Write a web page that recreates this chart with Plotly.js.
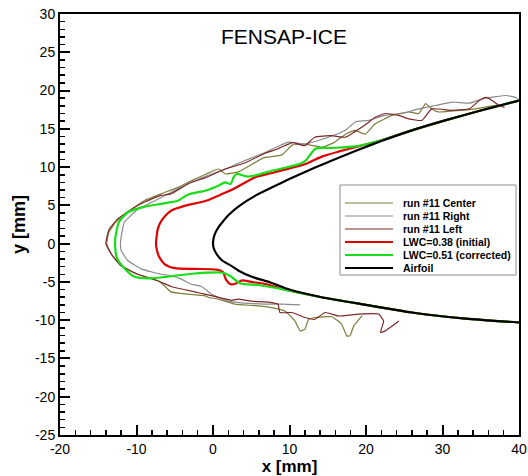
<!DOCTYPE html>
<html>
<head>
<meta charset="utf-8">
<script src="https://cdn.plot.ly/plotly-3.0.1.min.js"></script>
<style>html,body{margin:0;padding:0;background:#fff;}#chart{width:528px;height:476px;}</style>
</head>
<body>
<div id="chart"></div>
<script>
// ---- data (mm) ----
const seriesNames = ["run #11 Center", "run #11 Right", "run #11 Left", "LWC=0.38 (initial)", "LWC=0.51 (corrected)", "Airfoil"];

const centerX = [19.5, 18.4, 17.9, 17.5, 16.8, 15.5, 13.3, 12.5, 12.0, 11.4, 10.7, 9.4, 7.65, 5.45, 2.85, 0.65, -0.65, -1.1, -3.3, -5.5, -6.35, -7.2, -9.85, -12.0, -13.3, -13.9, -13.6, -12.7, -11.0, -9.0, -6.8, -4.6, -2.85, -0.9, 0.75, 1.6, 3.4, 5.0, 6.6, 9.0, 10.4, 12.0, 14.3, 15.8, 17.5, 18.6, 19.9, 21.2, 23.4, 25.6, 26.9, 27.8, 28.6, 29.5, 32.2, 34.3, 37.0, 37.6];
const centerY = [-9.4, -10.75, -12.05, -12.05, -10.5, -9.55, -9.65, -9.9, -11.2, -11.4, -10.1, -8.8, -8.35, -8.1, -7.9, -7.25, -7.0, -6.8, -6.6, -6.3, -5.5, -4.85, -4.0, -2.9, -1.35, 0.0, 1.5, 2.8, 4.2, 5.6, 6.5, 7.35, 8.2, 9.1, 9.75, 9.1, 9.4, 10.3, 11.2, 11.6, 12.9, 13.0, 12.6, 13.2, 14.4, 14.8, 14.3, 15.65, 16.75, 17.2, 17.0, 18.3, 17.6, 17.2, 17.4, 17.6, 18.05, 17.9];

const rightX = [11.4, 9.0, 6.8, 4.6, 2.0, -0.2, -1.5, -2.85, -4.2, -5.5, -6.8, -9.4, -11.15, -12.0, -12.1, -11.9, -11.6, -9.8, -7.2, -4.6, -1.5, 2.0, 3.3, 6.8, 9.85, 12.0, 15.1, 17.3, 18.6, 20.3, 22.5, 24.7, 26.9, 29.1, 31.3, 33.5, 35.2, 37.0, 38.3, 39.6, 40.0];
const rightY = [-8.0, -7.9, -7.9, -7.8, -7.5, -6.6, -5.6, -5.3, -4.6, -4.2, -4.0, -3.3, -2.2, -0.9, 0.0, 1.5, 2.8, 4.5, 5.8, 7.15, 8.6, 9.9, 10.5, 11.9, 13.25, 13.0, 13.9, 14.8, 15.9, 16.1, 16.75, 17.0, 17.6, 18.05, 18.5, 18.35, 18.9, 19.2, 19.35, 19.1, 18.7];

const leftX = [24.3, 22.5, 21.9, 22.3, 21.65, 19.0, 16.4, 14.65, 13.3, 12.0, 10.3, 8.75, 8.5, 7.65, 5.0, 3.3, 2.4, -0.2, -1.1, -2.4, -5.5, -7.2, -9.85, -12.0, -13.3, -14.0, -13.6, -12.5, -10.5, -9.0, -6.8, -5.5, -3.3, -0.9, 1.6, 4.3, 6.8, 8.5, 10.4, 12.0, 13.3, 15.5, 17.3, 18.5, 20.0, 21.2, 22.5, 24.3, 25.6, 27.3, 28.6, 31.3, 33.5, 34.8, 35.7, 36.5, 37.4, 38.1];
const leftY = [-10.1, -11.4, -11.6, -10.1, -9.2, -9.2, -9.45, -9.0, -9.9, -9.65, -9.0, -9.0, -7.9, -7.7, -7.5, -7.25, -7.4, -6.8, -6.6, -6.3, -5.6, -4.85, -4.0, -2.9, -1.35, 0.0, 1.8, 3.2, 4.6, 5.4, 6.3, 6.5, 7.8, 8.65, 9.75, 10.6, 11.8, 12.4, 13.2, 12.8, 13.9, 14.1, 13.9, 14.6, 15.6, 16.5, 17.0, 16.75, 16.3, 16.1, 17.6, 17.4, 17.6, 18.7, 19.1, 18.7, 18.05, 17.8];

const lwc038X = [40, 35, 30, 26, 22, 18.6, 16.5, 14.3, 12.1, 9.9, 7.6, 5.6, 3.5, 2.6, 1.0, -0.9, -3.5, -5.5, -6.6, -7.2, -7.45, -7.3, -7.0, -6.3, -5.0, -2.5, 0.5, 1.3, 1.7, 2.3, 3.0, 3.8, 5.0, 7.0, 9.0, 14.2, 20, 26, 33, 40];
const lwc038Y = [18.7, 17.4, 16.0, 14.8, 13.5, 12.6, 12.05, 11.4, 10.4, 9.8, 9.2, 8.7, 7.6, 7.1, 6.4, 5.6, 5.0, 4.3, 3.2, 2.0, 0.0, -1.0, -1.8, -2.7, -3.2, -3.3, -3.4, -3.7, -4.7, -5.3, -5.2, -4.8, -5.0, -5.3, -5.9, -7.0, -8.0, -9.0, -9.8, -10.3];

const lwc051X = [40, 35, 30, 26, 22, 18.6, 15.6, 13.4, 12.1, 11.3, 7.8, 4.7, 3.1, 2.7, 2.3, 1.6, 0.75, -0.9, -3.3, -4.6, -6.8, -9.0, -11.1, -12.3, -12.8, -12.6, -11.6, -10.3, -8.5, -5.9, -2.4, 1.3, 2.2, 3.6, 5.9, 9.0, 14.2, 20, 26, 33, 40];
const lwc051Y = [18.7, 17.4, 16.0, 14.8, 13.5, 12.7, 12.5, 12.4, 10.85, 10.4, 9.55, 8.75, 9.1, 8.7, 7.8, 8.0, 7.6, 6.95, 6.4, 5.6, 5.2, 4.8, 4.1, 2.8, 0.4, -1.8, -3.2, -4.3, -4.55, -4.3, -3.9, -3.8, -4.2, -5.2, -5.4, -5.95, -7.0, -8.0, -9.0, -9.8, -10.3];

const airfoilX = [40, 33, 26, 20, 14.2, 10, 7.6, 5, 3.3, 2.4, 1.2, 0.5, 0.1, 0, 0.1, 0.35, 0.75, 1.3, 2.1, 3.4, 5.6, 7.8, 9.9, 12.1, 14.3, 16.5, 18.6, 22, 26, 30, 35, 40];
const airfoilY = [-10.3, -9.8, -9.0, -8.0, -7.0, -6.0, -5.1, -4.3, -3.5, -2.9, -2.2, -1.4, -0.6, 0, 0.8, 1.5, 2.2, 2.9, 3.8, 4.9, 6.3, 7.4, 8.4, 9.4, 10.35, 11.25, 12.1, 13.4, 14.8, 16.0, 17.4, 18.7];

const xTicks = [-20, -10, 0, 10, 20, 30, 40];
const yTicks = [-25, -20, -15, -10, -5, 0, 5, 10, 15, 20, 25, 30];

// ---- styles ----
const colors = ["#7d7d3c", "#8a8a8a", "#7a2828", "#e00000", "#19dd19", "#000000"];
const widths = [1.2, 1.2, 1.2, 2.2, 2.2, 2.2];
const xs = [centerX, rightX, leftX, lwc038X, lwc051X, airfoilX];
const ys = [centerY, rightY, leftY, lwc038Y, lwc051Y, airfoilY];

const traces = xs.map((x, i) => ({
  type: "scatter", mode: "lines", x: x, y: ys[i], name: seriesNames[i],
  line: {color: colors[i], width: widths[i], shape: "spline", smoothing: i < 3 ? 0.4 : 0.6},
  showlegend: false, hoverinfo: "skip"
}));

const W = 528, H = 476;
const M = {l: 60, r: 9, t: 14, b: 41};
const pw = W - M.l - M.r, ph = H - M.t - M.b;
const px2x = p => (p - M.l) / pw;
const py2y = p => 1 - (p - M.t) / ph;

const FONT = "Arial, 'Liberation Sans', sans-serif";

// legend (drawn manually to match compact row spacing)
const shapes = [{
  type: "rect", xref: "paper", yref: "paper",
  x0: px2x(340), x1: px2x(516), y0: py2y(275), y1: py2y(185),
  line: {color: "#8c8c8c", width: 1}, fillcolor: "#ffffff", layer: "above"
}];
const annotations = [{
  text: "FENSAP-ICE", xref: "paper", yref: "paper",
  x: px2x(284), y: py2y(37), xanchor: "center", yanchor: "middle",
  showarrow: false, font: {family: FONT, size: 21, color: "#000"}
}];
const rowY = [203, 216, 229, 242, 255, 268];
seriesNames.forEach((n, i) => {
  shapes.push({type: "line", xref: "paper", yref: "paper",
    x0: px2x(345), x1: px2x(393), y0: py2y(rowY[i]), y1: py2y(rowY[i]),
    line: {color: colors[i], width: widths[i] > 2 ? 2.2 : 1.2}, layer: "above"});
  annotations.push({text: n, xref: "paper", yref: "paper",
    x: px2x(401), y: py2y(rowY[i]), xanchor: "left", yanchor: "middle",
    showarrow: false, font: {family: FONT, size: 10.5, color: "#000", weight: "bold"}});
});

const axisCommon = {
  showgrid: false, zeroline: false, showline: true, mirror: true,
  linecolor: "#000", linewidth: 2, ticks: "inside", ticklen: 10, tickwidth: 2,
  tickcolor: "#000", tickfont: {family: FONT, size: 14, color: "#000"},
  fixedrange: true
};

const layout = {
  width: W, height: H, margin: M,
  paper_bgcolor: "#fff", plot_bgcolor: "#fff",
  showlegend: false,
  xaxis: Object.assign({}, axisCommon, {
    range: [-20, 40], tickvals: xTicks, ticktext: xTicks.map(String),
    minor: {dtick: 2, ticks: "inside", ticklen: 5, tickwidth: 1.5, tickcolor: "#000"},
    title: {text: "x [mm]", font: {family: FONT, size: 17, color: "#000", weight: "bold"}, standoff: 3}
  }),
  yaxis: Object.assign({}, axisCommon, {
    range: [-25, 30], tickvals: yTicks, ticktext: yTicks.map(String),
    minor: {dtick: 1, ticks: "inside", ticklen: 5, tickwidth: 1.5, tickcolor: "#000"},
    title: {text: "y [mm]", font: {family: FONT, size: 18, color: "#000", weight: "bold"}, standoff: 5}
  }),
  shapes: shapes,
  annotations: annotations
};

Plotly.newPlot("chart", traces, layout, {staticPlot: true, displayModeBar: false});
</script>
</body>
</html>
